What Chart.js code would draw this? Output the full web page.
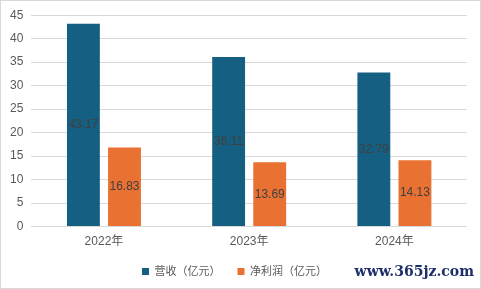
<!DOCTYPE html>
<html><head><meta charset="utf-8">
<script src="https://cdn.jsdelivr.net/npm/chart.js@4"></script>
<style>
html,body{margin:0;padding:0;background:#fff;}
#wrap{position:relative;width:481px;height:289px;box-sizing:border-box;border:1px solid #d9d9d9;overflow:hidden;}
canvas{position:absolute;left:-1px;top:-1px;}
</style></head>
<body>
<div id="wrap"><canvas id="c" width="481" height="289"></canvas></div>
<script>
const categories = ["2022年", "2023年", "2024年"];
const revenue = [43.17, 36.11, 32.79];
const netProfit = [16.83, 13.69, 14.13];
const seriesNames = ["营收（亿元）", "净利润（亿元）"];
const yTicks = [0, 5, 10, 15, 20, 25, 30, 35, 40, 45];
const watermark = "www.365jz.com";

const FONT = "'Liberation Sans', 'Noto Sans CJK SC', sans-serif";

const centerLabels = {
  id: 'centerLabels',
  afterDatasetsDraw(chart) {
    const ctx = chart.ctx;
    ctx.save();
    ctx.font = "12px " + FONT;
    ctx.fillStyle = "#404040";
    ctx.textAlign = "center";
    ctx.textBaseline = "middle";
    chart.data.datasets.forEach((ds, i) => {
      chart.getDatasetMeta(i).data.forEach((bar, j) => {
        const mid = (bar.y + bar.base) / 2;
        ctx.fillText(ds.data[j].toFixed(2), bar.x, mid);
      });
    });
    ctx.restore();
  }
};
const wm = {
  id: 'wm',
  afterDraw(chart) {
    const ctx = chart.ctx;
    ctx.save();
    ctx.font = "bold 14px 'DejaVu Serif', serif";
    ctx.fillStyle = "#1c2f6b";
    ctx.textAlign = "right";
    ctx.textBaseline = "middle";
    ctx.fillText(watermark, 474, 272);
    ctx.restore();
  }
};

new Chart(document.getElementById('c'), {
  type: 'bar',
  data: {
    labels: categories,
    datasets: [
      {label: seriesNames[0], data: revenue, backgroundColor: '#156082', categoryPercentage: 0.566, barPercentage: 0.8},
      {label: seriesNames[1], data: netProfit, backgroundColor: '#E97132', categoryPercentage: 0.566, barPercentage: 0.8}
    ]
  },
  options: {
    responsive: false,
    animation: false,
    layout: {padding: {left: 2, right: 14, top: 8, bottom: 2}},
    plugins: {
      legend: {
        position: 'bottom',
        labels: {boxWidth: 7, boxHeight: 7, color: '#595959', font: {size: 11, family: FONT}, padding: 17}
      },
      tooltip: {enabled: false}
    },
    scales: {
      x: {
        grid: {display: false},
        border: {display: false},
        ticks: {color: '#595959', font: {size: 12, family: FONT}, padding: 0}
      },
      y: {
        min: 0, max: 45,
        afterBuildTicks(axis) { axis.ticks = yTicks.map(v => ({value: v})); },
        grid: {color: '#d9d9d9', drawTicks: false},
        border: {display: false},
        ticks: {color: '#595959', font: {size: 12, family: FONT}, padding: 8}
      }
    }
  },
  plugins: [centerLabels, wm]
});
</script>
</body></html>
